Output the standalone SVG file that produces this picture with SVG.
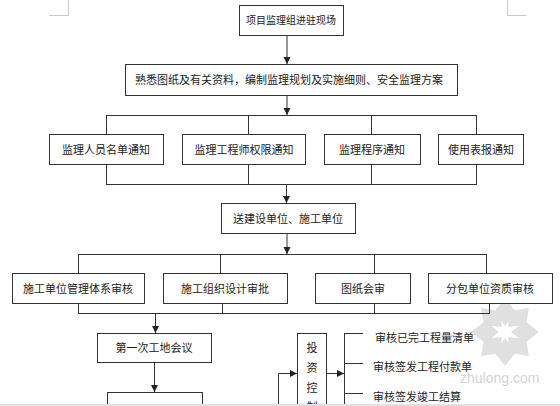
<svg xmlns="http://www.w3.org/2000/svg" width="560" height="406" viewBox="0 0 560 406">
<style>
.box{fill:#fff;stroke:#333;stroke-width:1}
.t{font-family:"Noto Sans CJK SC","Noto Sans",sans-serif;font-size:11px;fill:#222;text-anchor:middle}
.tl{font-family:"Noto Sans CJK SC","Noto Sans",sans-serif;font-size:11px;fill:#222}
.ln{fill:none;stroke:#333;stroke-width:1}
.ar{fill:none;stroke:#333;stroke-width:1;marker-end:url(#ah)}
.mark{fill:none;stroke:#c8c8c8;stroke-width:1}
.wm{font-family:"Liberation Sans",Arial,sans-serif;font-size:14px;fill:#d4d4d4}
.logo{fill:#e0e0e0}
</style>
<defs>
<marker id="ah" markerUnits="userSpaceOnUse" markerWidth="8" markerHeight="8" refX="7" refY="4" orient="auto">
<path d="M0,0.5 L7,4 L0,7.5 Z" fill="#222"/>
</marker>
</defs>
<rect width="560" height="406" fill="#fff"/>
<g id="page-marks">
<path class="mark" d="M49 15.5 H68.5 V0"/>
<path class="mark" d="M507.5 0 V15.5 H526"/>
</g>
<g id="watermark">
<path class="logo" d="M505 298 L516 312 L505 326 L494 312 Z M505 338 L516 352 L505 366 L494 352 Z M471 332 L485 321 L499 332 L485 343 Z M511 332 L525 321 L539 332 L525 343 Z M481 308 L500 311 L502 327 L484 325 Z M529 308 L526 325 L508 327 L510 311 Z M481 356 L484 339 L502 337 L500 353 Z M529 356 L510 353 L508 337 L526 339 Z"/>
<text class="wm" x="460" y="383">zhulong.com</text>
</g>
<g id="connectors">
<path class="ar" d="M287 35 V64"/>
<path class="ar" d="M287 95 V115"/>
<path class="ln" d="M106 115.5 H476 M106.5 115 V134 M248.5 115 V134 M371.5 115 V134 M476.5 115 V134"/>
<path class="ln" d="M106.5 164 V184 M248.5 164 V184 M371.5 164 V184 M476.5 164 V184 M106 184.5 H477"/>
<path class="ar" d="M286.5 184 V203"/>
<path class="ar" d="M287 233 V254"/>
<path class="ln" d="M78 254.5 H486 M78.5 254 V273 M220.5 254 V273 M374.5 254 V273 M486.5 254 V273"/>
<path class="ln" d="M78.5 303 V313 M222.5 303 V313 M374.5 303 V313 M489.5 303 V313 M78 313.5 H490"/>
<path class="ar" d="M155.5 313 V333"/>
<path class="ar" d="M154.5 362 V392"/>
<path class="ar" d="M278.5 406 V373.5 H297"/>
<path class="ar" d="M326 373.5 H344"/>
<path class="ln" d="M344.5 333 V406 M344 333.5 H363 M344 363.5 H363 M344 393.5 H363"/>
</g>
<g id="n1"><rect class="box" x="239.5" y="5.5" width="104" height="30"/><text class="t" x="291" y="24" style="font-size:10px">项目监理组进驻现场</text></g>
<g id="n2"><rect class="box" x="125.5" y="64.5" width="332" height="31"/><text class="t" x="289" y="84">熟悉图纸及有关资料，编制监理规划及实施细则、安全监理方案</text></g>
<g id="n3"><rect class="box" x="49.5" y="134.5" width="114" height="30"/><text class="t" x="106" y="153.5">监理人员名单通知</text></g>
<g id="n4"><rect class="box" x="182.5" y="134.5" width="123" height="30"/><text class="t" x="244" y="153.5">监理工程师权限通知</text></g>
<g id="n5"><rect class="box" x="324.5" y="134.5" width="96" height="30"/><text class="t" x="372" y="153.5">监理程序通知</text></g>
<g id="n6"><rect class="box" x="438.5" y="134.5" width="85" height="30"/><text class="t" x="481" y="153.5">使用表报通知</text></g>
<g id="n7"><rect class="box" x="221.5" y="203.5" width="134" height="30"/><text class="t" x="288" y="222.5">送建设单位、施工单位</text></g>
<g id="n8"><rect class="box" x="12.5" y="273.5" width="132" height="30"/><text class="t" x="78" y="292.5">施工单位管理体系审核</text></g>
<g id="n9"><rect class="box" x="163.5" y="273.5" width="124" height="30"/><text class="t" x="225" y="292.5">施工组织设计审批</text></g>
<g id="n10"><rect class="box" x="315.5" y="273.5" width="95" height="30"/><text class="t" x="363" y="292.5">图纸会审</text></g>
<g id="n11"><rect class="box" x="428.5" y="273.5" width="124" height="30"/><text class="t" x="490" y="292.5">分包单位资质审核</text></g>
<g id="n12"><rect class="box" x="97.5" y="333.5" width="114" height="29"/><text class="t" x="154" y="352">第一次工地会议</text></g>
<g id="n13"><rect class="box" x="107.5" y="392.5" width="95" height="20"/></g>
<g id="n14"><rect class="box" x="297.5" y="333.5" width="29" height="80"/>
<text class="t" x="312" y="352">投</text><text class="t" x="312" y="372">资</text><text class="t" x="312" y="392">控</text><text class="t" x="312" y="411">制</text></g>
<g id="n15"><text class="tl" x="375" y="342">审核已完工程量清单</text></g>
<g id="n16"><text class="tl" x="373" y="371">审核签发工程付款单</text></g>
<g id="n17"><text class="tl" x="373" y="401">审核签发竣工结算</text></g>
<rect x="0" y="404" width="560" height="2" fill="#e2e2e2"/>
</svg>
